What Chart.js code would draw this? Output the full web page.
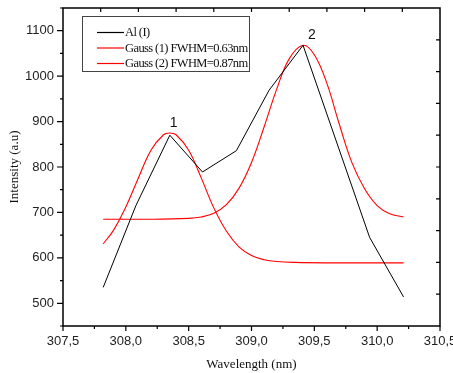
<!DOCTYPE html>
<html>
<head>
<meta charset="utf-8">
<script src="https://cdn.jsdelivr.net/npm/chart.js@4/dist/chart.umd.min.js"></script>
<style>
  html, body { margin: 0; padding: 0; background: #fff; }
  #wrap { width: 453px; height: 373px; position: relative; }
</style>
</head>
<body>
<div id="wrap"><canvas id="chart"></canvas></div>
<script>
// Al (I) line profile with two Gaussian fits

const alWavelength = [307.82, 308.08, 308.35, 308.61, 308.88, 309.14, 309.41, 309.94, 310.21];
const alIntensity  = [535, 715, 870, 789, 836, 969, 1068, 645, 514];

const gauss1Wavelength = [307.82, 307.90, 308.00, 308.10, 308.20, 308.30, 308.35, 308.40, 308.50, 308.60,
                          308.70, 308.80, 308.90, 309.00, 309.10, 309.20, 309.35, 309.60, 309.90, 310.21];
const gauss1Intensity  = [631, 660, 712, 776, 837, 871, 875, 871, 837, 776,
                          710, 659, 624, 605, 596, 592, 590, 589, 589, 589];

const gauss2Wavelength = [307.82, 308.20, 308.50, 308.60, 308.70, 308.80, 308.90, 309.00, 309.10, 309.20,
                          309.30, 309.41, 309.50, 309.60, 309.70, 309.80, 309.90, 310.00, 310.10, 310.21];
const gauss2Intensity  = [685, 685, 687, 690, 698, 717, 753, 810, 888, 971,
                          1038, 1068, 1047, 984, 893, 809, 752, 715, 697, 690];

const seriesLabels = ['Al (I)', 'Gauss (1) FWHM=0.63nm', 'Gauss (2) FWHM=0.87nm'];
const peakLabels = ['1', '2'];

const xMin = 307.5, xMax = 310.5, xStep = 0.25;
const yMin = 450, yMax = 1150, yStep = 50;

const toPoints = (xs, ys) => xs.map((x, i) => ({ x, y: ys[i] }));
const comma = v => v.toFixed(1).replace('.', ',');
const isMajor = (v, step) => Math.abs(v / step - Math.round(v / step)) < 1e-6;

// frame, ticks on all four sides, legend box and peak numbers
const decorations = {
    id: 'decorations',
    afterDraw(chart) {
        const { ctx, chartArea: a, scales: { x, y } } = chart;
        ctx.save();
        ctx.strokeStyle = '#000';
        ctx.lineWidth = 1.5;
        ctx.strokeRect(a.left, a.top, a.right - a.left, a.bottom - a.top);

        ctx.lineWidth = 1.2;
        ctx.beginPath();
        x.ticks.forEach(t => {
            const px = x.getPixelForValue(t.value);
            const len = isMajor(t.value, 0.5) ? 5 : 3;
            ctx.moveTo(px, a.bottom); ctx.lineTo(px, a.bottom + len);
        });
        y.ticks.forEach(t => {
            const py = y.getPixelForValue(t.value);
            const len = isMajor(t.value, 100) ? 6 : 3;
            ctx.moveTo(a.left, py); ctx.lineTo(a.left - len, py);
        });
        for (let i = 1; i < 10; i++) {
            const px = a.left + i * (a.right - a.left) / 10;
            ctx.moveTo(px, a.top); ctx.lineTo(px, a.top + 4);
            const py = a.top + i * (a.bottom - a.top) / 10;
            ctx.moveTo(a.right, py); ctx.lineTo(a.right - 4, py);
        }
        ctx.stroke();

        // legend
        const lx = 82, ly = 16, lw = 167, lh = 55;
        ctx.strokeStyle = '#444';
        ctx.lineWidth = 1;
        ctx.strokeRect(lx + 0.5, ly + 0.5, lw, lh);
        ctx.font = "12.5px 'Liberation Serif', 'Times New Roman', serif";
        if ('letterSpacing' in ctx) ctx.letterSpacing = '-0.6px';
        ctx.textBaseline = 'middle';
        ctx.textAlign = 'left';
        chart.data.datasets.forEach((ds, i) => {
            const ry = 32.5 + i * 15.5;
            ctx.strokeStyle = ds.borderColor;
            ctx.lineWidth = 1.2;
            ctx.beginPath();
            ctx.moveTo(97, ry); ctx.lineTo(124, ry);
            ctx.stroke();
            ctx.fillStyle = '#111';
            ctx.fillText(ds.label, 125, ry + 0.5);
        });
        if ('letterSpacing' in ctx) ctx.letterSpacing = '0px';

        // peak numbers above the fitted maxima
        ctx.font = "14px 'Liberation Sans', Arial, sans-serif";
        ctx.fillStyle = '#111';
        ctx.textBaseline = 'alphabetic';
        [[gauss1Wavelength, gauss1Intensity], [gauss2Wavelength, gauss2Intensity]].forEach(([xs, ys], i) => {
            const k = ys.indexOf(Math.max(...ys));
            const px = x.getPixelForValue(xs[k]);
            const py = y.getPixelForValue(ys[k]);
            ctx.fillText(peakLabels[i], px + (i ? 5 : 0), py - 6);
        });
        ctx.restore();
    }
};

const tickFont = { family: "'Liberation Sans Narrow', 'Liberation Sans', Arial, sans-serif", size: 13 };
const titleFont = { family: "'Liberation Serif', 'Times New Roman', serif", size: 13 };

new Chart(document.getElementById('chart'), {
    type: 'line',
    data: {
        datasets: [{
            label: seriesLabels[0],
            data: toPoints(alWavelength, alIntensity),
            borderColor: '#000',
            borderWidth: 1,
            tension: 0
        }, {
            label: seriesLabels[1],
            data: toPoints(gauss1Wavelength, gauss1Intensity),
            borderColor: '#ff0000',
            borderWidth: 1.1,
            tension: 0.4
        }, {
            label: seriesLabels[2],
            data: toPoints(gauss2Wavelength, gauss2Intensity),
            borderColor: '#ff0000',
            borderWidth: 1.1,
            tension: 0.4
        }]
    },
    options: {
        responsive: true,
        maintainAspectRatio: false,
        animation: false,
        devicePixelRatio: 1,
        layout: { padding: { left: 0, top: 8, right: 13, bottom: 0 } },
        elements: { point: { radius: 0 } },
        plugins: { legend: { display: false }, tooltip: { enabled: false } },
        scales: {
            x: {
                type: 'linear',
                min: xMin, max: xMax,
                afterFit: s => { s.height = 47; s.paddingLeft = 0; s.paddingRight = 0; },
                grid: { display: false, drawTicks: true, tickLength: 5 },
                border: { display: false },
                ticks: {
                    stepSize: xStep,
                    autoSkip: false,
                    maxRotation: 0,
                    padding: 3,
                    color: '#222',
                    font: tickFont,
                    callback: v => isMajor(v, 0.5) ? comma(v) : ''
                },
                title: { display: true, text: 'Wavelength (nm)', color: '#111', font: titleFont, padding: { top: 0, bottom: 1 } }
            },
            y: {
                type: 'linear',
                min: yMin, max: yMax,
                afterFit: s => { s.width = 63; s.paddingTop = 0; s.paddingBottom = 0; },
                grid: { display: false, drawTicks: true, tickLength: 6 },
                border: { display: false },
                ticks: {
                    stepSize: yStep,
                    autoSkip: false,
                    padding: 3,
                    color: '#222',
                    font: tickFont,
                    callback: v => (isMajor(v, 100) && v >= 500 && v <= 1100) ? String(v) : ''
                },
                title: { display: true, text: 'Intensity (a.u)', color: '#111', font: titleFont, padding: { top: 7, bottom: 0 } }
            }
        }
    },
    plugins: [decorations]
});
</script>
</body>
</html>
